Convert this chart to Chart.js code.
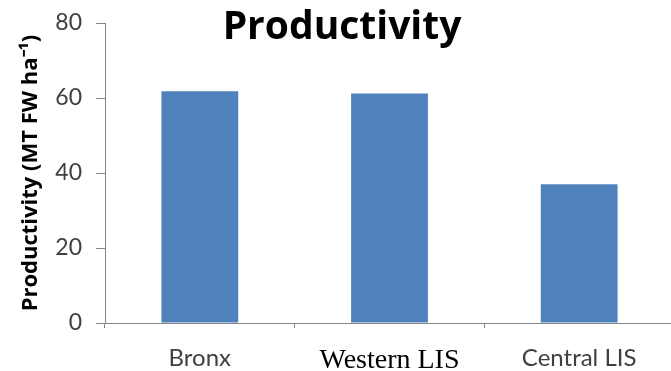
<!DOCTYPE html>
<html>
<head>
<meta charset="utf-8">
<script src="https://cdn.jsdelivr.net/npm/chart.js@4/dist/chart.umd.min.js"></script>
<style>
  html, body { margin: 0; padding: 0; background: #fff; overflow: hidden; }
  #wrap { width: 675px; height: 371px; position: relative; }
</style>
</head>
<body>
<div id="wrap"><canvas id="prodChart"></canvas></div>
<script>
const sites = ['Bronx', 'Western LIS', 'Central LIS'];
const productivity = [61.8, 61.2, 37.0];
const yTicks = [0, 20, 40, 60, 80];

const axisGrey = '#868686';
const labelGrey = '#404040';

// chart title sits over the plot, like the original
const titleOverlay = {
    id: 'titleOverlay',
    afterDraw(chart) {
        const ctx = chart.ctx;
        ctx.save();
        ctx.font = 'bold 39px "Open Sans"';
        ctx.fillStyle = '#000';
        ctx.textAlign = 'center';
        ctx.textBaseline = 'alphabetic';
        ctx.fillText('Productivity', 342, 39);
        ctx.restore();
    }
};

const ctx = document.getElementById('prodChart').getContext('2d');
new Chart(ctx, {
    type: 'bar',
    data: {
        labels: sites,
        datasets: [{
            label: 'Productivity',
            data: productivity,
            backgroundColor: '#4F81BD',
            borderWidth: 0,
            categoryPercentage: 1,
            barPercentage: 0.405
        }]
    },
    options: {
        responsive: true,
        maintainAspectRatio: false,
        animation: false,
        layout: { padding: { top: 23, left: 0, right: 1, bottom: 0 } },
        plugins: {
            legend: { display: false },
            title: { display: false },
            tooltip: { enabled: false }
        },
        scales: {
            x: {
                grid: {
                    drawOnChartArea: false,
                    color: axisGrey,
                    tickLength: 5,
                    offset: true
                },
                border: { color: axisGrey, width: 1 },
                ticks: {
                    padding: 16,
                    maxRotation: 0,
                    color: (c) => c.index === 1 ? '#000' : labelGrey,
                    font: (c) => c.index === 1
                        ? { family: 'Liberation Serif', size: 28 }
                        : { family: 'Lato', size: 24 }
                },
                afterFit(scale) { scale.height = 48; }
            },
            y: {
                min: 0,
                max: 80,
                afterBuildTicks(scale) {
                    scale.ticks = yTicks.map(v => ({ value: v }));
                },
                grid: {
                    drawOnChartArea: false,
                    color: axisGrey,
                    tickLength: 9
                },
                border: { color: axisGrey, width: 1 },
                ticks: {
                    padding: 14,
                    color: labelGrey,
                    font: { family: 'Lato', size: 23 }
                },
                title: {
                    display: true,
                    text: 'Productivity (MT FW ha⁻¹)',
                    color: '#000',
                    font: { family: 'Open Sans', size: 22, weight: 'bold' },
                    padding: { top: 18, bottom: 0 }
                },
                afterFit(scale) {
                    scale.width = 105;
                    // tick padding would otherwise push the plot down
                    scale.paddingTop = 0;
                    scale.paddingBottom = 0;
                }
            }
        }
    },
    plugins: [titleOverlay]
});
</script>
</body>
</html>
